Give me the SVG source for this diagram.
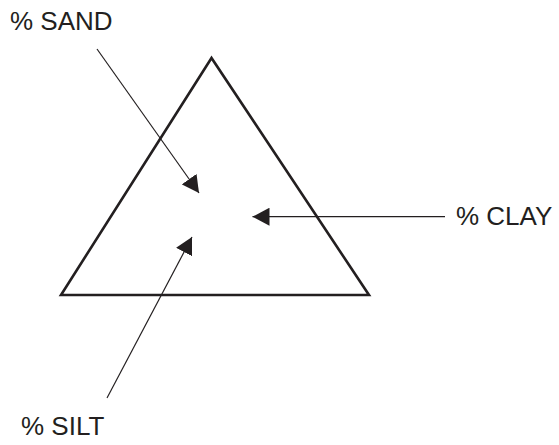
<svg xmlns="http://www.w3.org/2000/svg" width="559" height="445" viewBox="0 0 559 445">
<style>
.lbl{font-family:"Liberation Sans",Arial,sans-serif;font-size:26px;fill:#231f20}
.conn{stroke:#231f20;stroke-width:1.2;fill:none}
</style>
<defs>
<marker id="ah" markerUnits="userSpaceOnUse" markerWidth="18" markerHeight="18" refX="17" refY="9" orient="auto" viewBox="0 0 18 18">
<path d="M0,0 L17,9 L0,18 z" fill="#231f20"/>
</marker>
</defs>
<rect width="559" height="445" fill="#fff"/>
<g id="triangle">
<polygon points="211.5,58 61,295 369,295" fill="none" stroke="#231f20" stroke-width="2.6" stroke-linejoin="miter"/>
</g>
<g id="connectors">
<line class="conn" x1="97" y1="49" x2="199" y2="193" marker-end="url(#ah)"/>
<line class="conn" x1="445" y1="216.7" x2="252.5" y2="216.7" marker-end="url(#ah)"/>
<line class="conn" x1="107" y1="398" x2="192" y2="237" marker-end="url(#ah)"/>
</g>
<g id="sand"><text class="lbl" x="10" y="30">% SAND</text></g>
<g id="clay"><text class="lbl" x="456" y="224.5">% CLAY</text></g>
<g id="silt"><text class="lbl" x="21" y="435">% SILT</text></g>
</svg>
